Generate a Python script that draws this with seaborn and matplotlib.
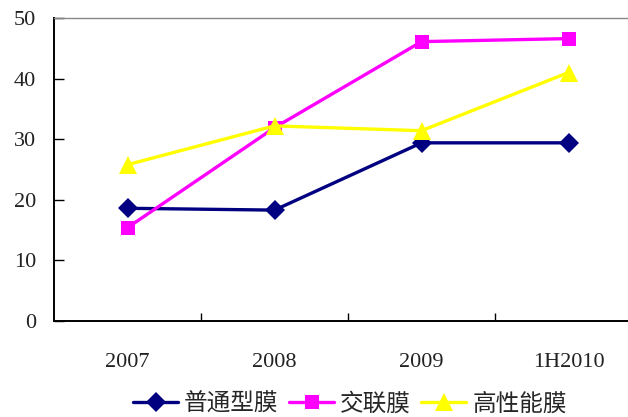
import matplotlib
matplotlib.use("Agg")
import matplotlib.pyplot as plt
import pandas as pd
import seaborn as sns
from matplotlib.ticker import FixedLocator

sns.set_theme(style="white")
plt.rcParams['font.family'] = ['Liberation Serif', 'Noto Sans CJK SC', 'DejaVu Sans']

# data
years = ["2007", "2008", "2009", "1H2010"]
series_names = ["普通型膜", "交联膜", "高性能膜"]
ordinary = [18.6, 18.3, 29.4, 29.4]
crosslinked = [15.4, 31.9, 46.1, 46.6]
high_perf = [25.8, 32.2, 31.4, 41.0]

df = pd.DataFrame({
    "year": years * 3,
    "value": ordinary + crosslinked + high_perf,
    "type": [series_names[0]] * 4 + [series_names[1]] * 4 + [series_names[2]] * 4,
})

colors = {"普通型膜": "#000080", "交联膜": "#FF00FF", "高性能膜": "#FFFF00"}
markers = {"普通型膜": "D", "交联膜": "s", "高性能膜": "^"}
msizes = {"普通型膜": 10.5, "交联膜": 10, "高性能膜": 12.5}

fig = plt.figure(figsize=(6.28, 4.17), dpi=100)
ax = fig.add_axes([54 / 628, 96 / 417, 588 / 628, 303 / 417])

sns.lineplot(data=df, x="year", y="value", hue="type", style="type",
             palette=colors, markers=markers, dashes=False, linewidth=2.4,
             markersize=10, markeredgewidth=0, ax=ax, legend=False, sort=False)
for line, n in zip(ax.lines, series_names):
    line.set_markersize(msizes[n])

ax.set_xlim(-0.5, 3.5)
ax.set_ylim(0, 50)
ax.set_yticks([0, 10, 20, 30, 40, 50])
ax.set_xlabel("")
ax.set_ylabel("")

ax.xaxis.set_minor_locator(FixedLocator([0.5, 1.5, 2.5]))
ax.tick_params(axis="x", which="major", length=0, pad=23, labelsize=16, colors="black")
ax.tick_params(axis="x", which="minor", bottom=True, direction="in", length=6, width=1, color="black")
ax.tick_params(axis="y", left=True, direction="in", length=7, width=1, pad=13,
               labelsize=16, colors="black")
for lab in ax.get_xticklabels() + ax.get_yticklabels():
    lab.set_color("#222222")

for s in ["left", "bottom"]:
    ax.spines[s].set_color("black")
    ax.spines[s].set_linewidth(1.4)
ax.spines["top"].set_color("#888888")
ax.spines["top"].set_linewidth(1.0)
ax.spines["right"].set_visible(False)

handles = [plt.Line2D([], [], color=colors[n], marker=markers[n], markersize=msizes[n],
                      markeredgewidth=0, linewidth=2.4) for n in series_names]
leg = fig.legend(handles, series_names, loc="center", bbox_to_anchor=(350 / 628, 1 - 404 / 417),
                 ncol=3, frameon=False, handlelength=1.9, handletextpad=0.25,
                 columnspacing=0.45, prop={"family": ["Noto Sans CJK SC"], "size": 17})

fig.savefig("out.png", dpi=100)
